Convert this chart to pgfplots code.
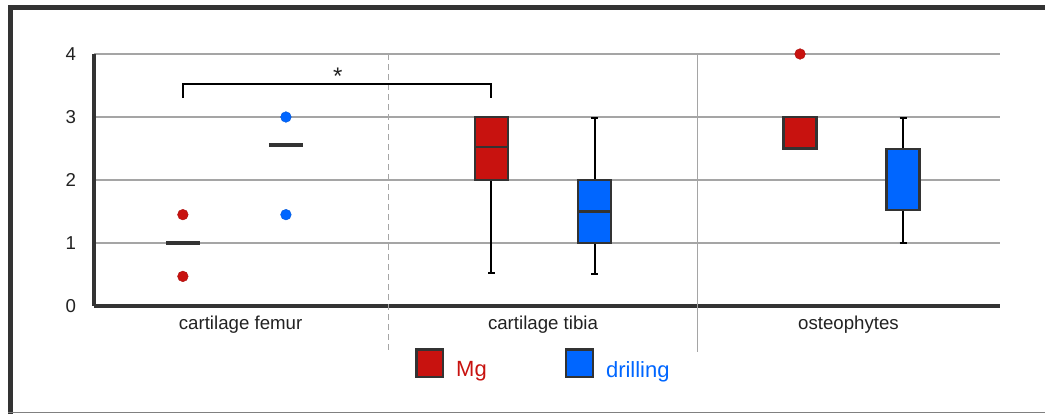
\documentclass[border=0pt]{standalone}
\usepackage{pgfplots}
\pgfplotsset{compat=1.18}
\usepgfplotslibrary{statistics}
\usepackage{fontspec}
\setmainfont{Liberation Sans}

\definecolor{mgred}{RGB}{200,18,15}
\definecolor{drblue}{RGB}{0,102,255}
\definecolor{boxdark}{RGB}{51,51,51}
\definecolor{gridgray}{RGB}{165,165,165}
\definecolor{textgray}{RGB}{34,34,34}

\pgfplotsset{
  mgbox/.style={fill=mgred, draw=boxdark, line width=1.8pt,
    boxplot/every whisker/.style={draw=black, line width=1.5pt},
    boxplot/every median/.style={draw=boxdark, line width=1.8pt}},
  drbox/.style={fill=drblue, draw=boxdark, line width=1.8pt,
    boxplot/every whisker/.style={draw=black, line width=1.5pt},
    boxplot/every median/.style={draw=boxdark, line width=1.8pt}},
}

\begin{document}
\begin{tikzpicture}
% page is 1045 x 414 px at 0.75pt per px
\useasboundingbox (0pt,0pt) rectangle (783.75pt,310.5pt);
% outer frame (cropped on the right)
\draw[boxdark, line width=3.75pt] (6pt,304.6pt) -- (783.75pt,304.6pt);
\draw[boxdark, line width=3.75pt] (8pt,306.5pt) -- (8pt,0pt);
\draw[gray, line width=0.9pt] (6pt,1pt) -- (783.75pt,1pt);

\begin{axis}[
    at={(70.5pt,81pt)}, anchor=south west,
    scale only axis,
    width=679.5pt, height=189pt,
    xmin=-0.455, xmax=2.481,
    ymin=0, ymax=4,
    clip=false,
    axis lines=left,
    axis line style={-, draw=boxdark, line width=3pt},
    major tick length=0pt,
    ytick={0,1,2,3,4},
    xtick={0.02,1,1.99},
    xticklabels={cartilage femur, cartilage tibia, osteophytes},
    xticklabel style={font=\fontsize{14}{16}\selectfont, text=textgray, yshift=-4pt},
    yticklabel style={font=\fontsize{14}{16}\selectfont, text=textgray, xshift=-10pt,
      /pgf/number format/assume math mode=true},
    ymajorgrids,
    grid style={gridgray, line width=0.9pt},
    boxplot/draw direction=y,
    boxplot/box extend=0.107,
    boxplot/whisker extend=0.022,
    legend style={draw=none, fill=none, inner sep=0pt,
      at={(rel axis cs:0.3543,-0.234)}, anchor=west,
      font=\fontsize{16.5}{18}\selectfont,
      /tikz/every odd column/.append style={column sep=7pt},
      /tikz/every even column/.append style={column sep=56.75pt}},
    legend columns=2,
  ]
  % legend
  \addlegendimage{legend image code/.code={\draw[fill=mgred, draw=boxdark, line width=1.7pt] (0pt,-5pt) rectangle (20pt,15.5pt);}}
  \addlegendentry{\textcolor{mgred}{Mg}}
  \addlegendimage{legend image code/.code={\draw[fill=drblue, draw=boxdark, line width=1.7pt] (0pt,-5pt) rectangle (20pt,15.5pt);}}
  \addlegendentry{\textcolor{drblue}{drilling}}

  % category separators
  \addplot[gridgray, line width=0.9pt, dash pattern=on 4.5pt off 3pt] coordinates {(0.5,4) (0.5,-0.70)};
  \addplot[gridgray, line width=0.9pt] coordinates {(1.5,4) (1.5,-0.73)};

  % cartilage femur: medians only
  \addplot[boxdark, line width=2.8pt] coordinates {(-0.222,1.0) (-0.112,1.0)};
  \addplot[boxdark, line width=2.8pt] coordinates {(0.112,2.55) (0.222,2.55)};

  % cartilage tibia
  \addplot[mgbox, boxplot prepared={draw position=0.833, lower whisker=0.52,
      lower quartile=2, median=2.52, upper quartile=3, upper whisker=3}] coordinates {};
  \addplot[drbox, boxplot prepared={draw position=1.167, lower whisker=0.5,
      lower quartile=1, median=1.5, upper quartile=2, upper whisker=2.98}] coordinates {};

  % osteophytes
  \addplot[mgbox, boxplot prepared={draw position=1.833, lower whisker=2.5,
      lower quartile=2.5, median=3, upper quartile=3, upper whisker=3}] coordinates {};
  \addplot[drbox, boxplot prepared={draw position=2.167, lower whisker=1.0,
      lower quartile=1.52, median=2.49, upper quartile=2.49, upper whisker=2.98}] coordinates {};

  % single points
  \addplot[only marks, mark=*, mark size=4pt,
    mark options={fill=mgred, draw=mgred!85!black, line width=0.3pt}]
    coordinates {(-0.167,1.45) (-0.167,0.47) (1.833,4.0)};
  \addplot[only marks, mark=*, mark size=4pt,
    mark options={fill=drblue, draw=drblue!85!black, line width=0.3pt}]
    coordinates {(0.167,3.0) (0.167,1.45)};

  % significance bracket
  \addplot[black, line width=1.5pt] coordinates {(-0.167,3.3) (-0.167,3.53) (0.833,3.53) (0.833,3.3)};
  \node[font=\fontsize{18}{20}\selectfont, text=textgray] at (axis cs:0.335,3.64) {*};
\end{axis}
\end{tikzpicture}
\end{document}
